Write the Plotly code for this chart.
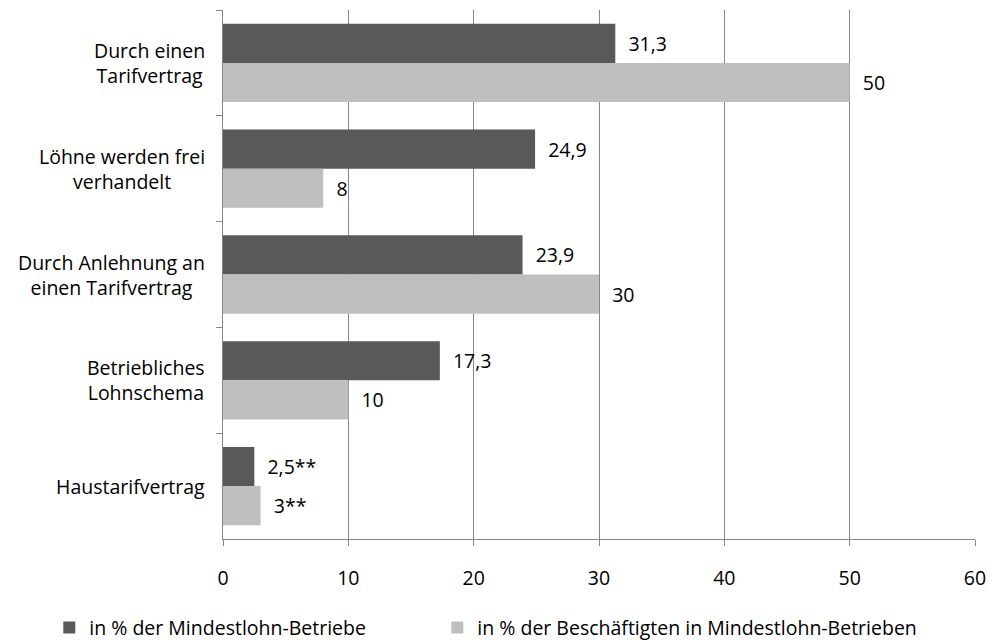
import plotly.graph_objects as go

categories = [
    "Durch einen<br>Tarifvertrag",
    "Löhne werden frei<br>verhandelt",
    "Durch Anlehnung an<br>einen Tarifvertrag",
    "Betriebliches<br>Lohnschema",
    "Haustarifvertrag",
]
series_names = ["in % der Mindestlohn-Betriebe", "in % der Beschäftigten in Mindestlohn-Betrieben"]
betriebe = [31.3, 24.9, 23.9, 17.3, 2.5]
beschaeftigte = [50, 8, 30, 10, 3]
betriebe_labels = ["31,3", "24,9", "23,9", "17,3", "2,5**"]
beschaeftigte_labels = ["50", "8", "30", "10", "3**"]
x_ticks = [0, 10, 20, 30, 40, 50, 60]

FONT = "'Open Sans', sans-serif"
GRID = "#868686"
FS = 19.5

fig = go.Figure()
fig.add_trace(go.Bar(
    y=categories, x=betriebe, orientation="h", name=series_names[0],
    marker=dict(color="#595959", line=dict(width=0)),
    text=betriebe_labels, texttemplate="  %{text}", textposition="outside", cliponaxis=False,
    textfont=dict(size=FS, color="black", family=FONT), legend="legend",
))
fig.add_trace(go.Bar(
    y=categories, x=beschaeftigte, orientation="h", name=series_names[1],
    marker=dict(color="#BFBFBF", line=dict(width=0)),
    text=beschaeftigte_labels, texttemplate="  %{text}", textposition="outside", cliponaxis=False,
    textfont=dict(size=FS, color="black", family=FONT), legend="legend2",
))

for c in categories:
    fig.add_annotation(
        x=0, xref="paper", y=c, yref="y", text=c, showarrow=False,
        xanchor="right", xshift=-16, align="center",
        font=dict(size=FS, color="black", family=FONT),
    )

leg_common = dict(
    orientation="h", xanchor="left", y=-0.168, yanchor="middle",
    font=dict(size=FS, color="black", family=FONT), itemwidth=30,
    bgcolor="rgba(0,0,0,0)",
)
fig.update_layout(
    width=1000, height=640,
    margin=dict(l=223, r=25, t=10, b=101, autoexpand=False),
    plot_bgcolor="white", paper_bgcolor="white",
    barmode="group", bargap=0.26, bargroupgap=0,
    font=dict(family=FONT, size=FS, color="black"),
    legend=dict(x=-0.231, **leg_common),
    legend2=dict(x=0.285, **leg_common),
    showlegend=True,
)
fig.update_xaxes(
    range=[0, 60], tickvals=x_ticks, ticktext=[str(v) for v in x_ticks],
    showgrid=True, gridcolor=GRID, gridwidth=1.3,
    showline=True, linecolor=GRID, linewidth=1.3,
    ticks="outside", ticklen=6, tickcolor=GRID, tickwidth=1.3,
    ticklabelstandoff=15, zeroline=False,
    tickfont=dict(size=FS, color="black", family=FONT),
)
fig.update_yaxes(
    autorange="reversed", type="category",
    showticklabels=False, showgrid=False,
    showline=True, linecolor=GRID, linewidth=1.3,
    ticks="outside", ticklen=6, tickcolor=GRID, tickwidth=1.3,
    tickson="boundaries", zeroline=False,
)

fig.write_html("out.html", config={"displayModeBar": False},
               post_script="document.body.style.margin='0';")
